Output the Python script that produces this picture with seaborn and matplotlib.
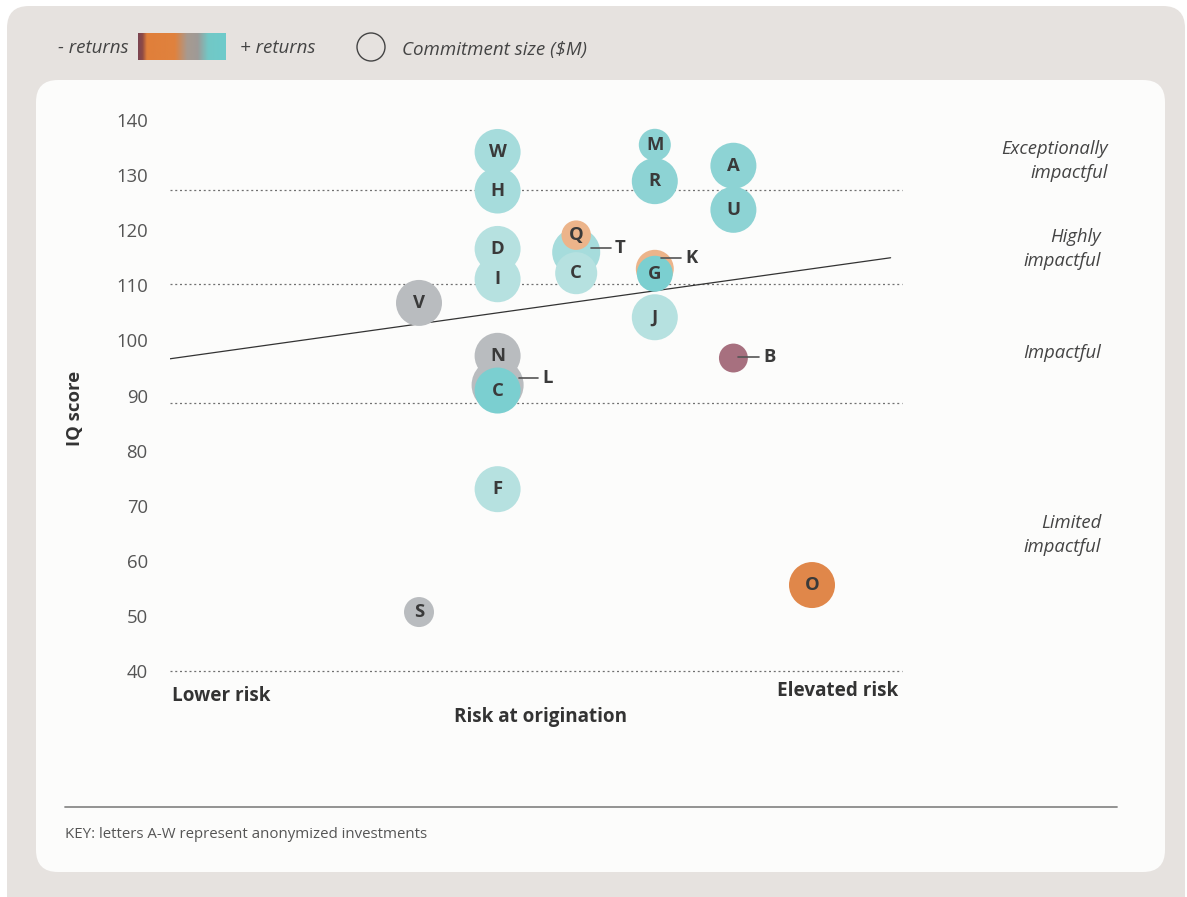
import numpy as np
import pandas as pd
import matplotlib
matplotlib.use("Agg")
import matplotlib.pyplot as plt
import matplotlib.transforms as mtransforms
from matplotlib.patches import FancyBboxPatch, Circle
from matplotlib.colors import LinearSegmentedColormap
import seaborn as sns

# ---- investments (drawn in this order, later ones on top) ----
labels = ["W", "H", "D", "I", "V", "N", "L", "C", "F", "S",
          "T", "Q", "C", "M", "R", "K", "G", "J", "A", "U", "B", "O"]
risk = [4, 4, 4, 4, 3, 4, 4, 4, 4, 3,
        5, 5, 5, 6, 6, 6, 6, 6, 7, 7, 7, 8]
iq_score = [134.2, 127.2, 116.6, 111.1, 106.8, 97.2, 91.9, 90.9, 73.0, 50.7,
            116.0, 119.1, 112.2, 135.5, 128.9, 113.0, 112.1, 104.2, 131.7, 123.7, 96.8, 55.6]
commitment_musd = [20, 20, 20, 20, 20, 20, 25.6, 20, 20, 8.5,
                   21.8, 8.2, 16.7, 9.7, 20, 13.6, 12.2, 20, 20, 20, 7.9, 20]
returns_tone = ["pos_soft", "pos_soft", "pos_pale", "pos_pale", "neutral", "neutral", "neutral",
                "pos_deep", "pos_pale", "neutral", "pos_soft", "neg_soft", "pos_pale", "pos",
                "pos", "neg_soft", "pos_deep", "pos_pale", "pos", "pos", "neg_deep", "neg"]

# labels placed outside their bubble with a short leader
outside_labels = {6: (21, -7, 40, 45), 10: (15, -4, 35, 38),
                  15: (6, -11, 26, 31), 20: (5, -1, 26, 30)}

band_edges = [127.3, 110.2, 88.6, 40.0]
band_names = ["Exceptionally\nimpactful", "Highly\nimpactful", "Impactful", "Limited\nimpactful"]
y_ticks = [40, 50, 60, 70, 80, 90, 100, 110, 120, 130, 140]
trend_intercept, trend_slope = 97.0, 2.0
trend_x_end = 9.0

tone_colors = {
    "pos": "#8DD3D4", "pos_deep": "#7BCFD0", "pos_soft": "#A6DCDC", "pos_pale": "#B6E1E0",
    "neutral": "#B9BCBF", "neg_soft": "#ECB48A", "neg": "#E0874A", "neg_deep": "#A7707F",
}

df = pd.DataFrame({"label": labels, "risk": risk, "iq": iq_score,
                   "commitment": commitment_musd, "tone": returns_tone})

sns.set_theme(style="white")
plt.rcParams["font.family"] = ["Open Sans", "DejaVu Sans"]

FS = 13.3
W, H = 1187, 897
fig = plt.figure(figsize=(W / 100, H / 100), dpi=100)
fig.patch.set_facecolor("white")

# background panels in pixel coordinates
bg = fig.add_axes([0, 0, 1, 1], zorder=0)
bg.set_xlim(0, W)
bg.set_ylim(H, 0)
bg.axis("off")
bg.add_patch(FancyBboxPatch((7, 6), 1178, 960, boxstyle="round,pad=0,rounding_size=22",
                            fc="#E6E2DF", ec="none"))
bg.add_patch(FancyBboxPatch((36, 80), 1129, 792, boxstyle="round,pad=0,rounding_size=22",
                            fc="#FCFCFB", ec="none"))

# main plotting area
x_lo, x_hi = -0.168, 9.145
y_lo, y_hi = 40.0, 143.63
ax = fig.add_axes([170 / W, 1 - 671 / H, 732 / W, 571 / H], zorder=2)
ax.patch.set_alpha(0)

k = 54.85  # marker area (pt^2) per $M
sns.scatterplot(data=df, x="risk", y="iq", size="commitment", sizes=(0, k * 30),
                size_norm=(0, 30), hue="tone", palette=tone_colors, linewidth=0,
                legend=False, ax=ax, zorder=3, clip_on=False)

ax.set_xlim(x_lo, x_hi)
ax.set_ylim(y_lo, y_hi)
for s in ax.spines.values():
    s.set_visible(False)
ax.set_xticks([])
ax.set_yticks(y_ticks)
ax.set_yticklabels([str(v) for v in y_ticks])
ax.tick_params(axis="y", length=0, pad=16, labelsize=FS, labelcolor="#555555")
ax.set_xlabel("")
ax.set_ylabel("")

ax.hlines(band_edges, x_lo, x_hi, colors="#707070", linestyles=(0, (1.6, 2.2)),
          linewidth=0.9, zorder=1, clip_on=False)

tx = np.array([x_lo, trend_x_end])
ax.plot(tx, trend_intercept + trend_slope * tx, color="#333333", lw=0.9, zorder=1.5)

fig.canvas.draw()
ident = mtransforms.IdentityTransform()
for i, row in df.iterrows():
    if i in outside_labels:
        dx1, dy, dx2, dxt = outside_labels[i]
        px, py = ax.transData.transform((row["risk"], row["iq"]))
        ax.plot([px + dx1, px + dx2], [py - dy, py - dy], transform=ident,
                color="#555555", lw=1.2, zorder=5, clip_on=False)
        ax.text(px + dxt, py - dy, row["label"], transform=ident, ha="left",
                va="center", fontsize=FS, fontweight="bold", color="#3A3A3A", zorder=5)
    else:
        ax.text(row["risk"], row["iq"], row["label"], ha="center", va="center",
                fontsize=FS, fontweight="bold", color="#3A3A3A", zorder=4)

# band names on the right
band_text_pos = [(1108, 161), (1101, 249), (1101, 353), (1101, 535)]
for name, (bx, by) in zip(band_names, band_text_pos):
    bg.text(bx, by, name, ha="right", va="center", fontsize=FS, style="italic",
            color="#444444", linespacing=1.42)

# axis titles
bg.text(75, 408, "IQ score", rotation=90, ha="center", va="center", fontsize=FS,
        fontweight="bold", color="#333333")
bg.text(172, 696, "Lower risk", ha="left", va="center", fontsize=FS + 0.3,
        fontweight="bold", color="#333333")
bg.text(898, 691, "Elevated risk", ha="right", va="center", fontsize=FS + 0.3,
        fontweight="bold", color="#333333")
bg.text(541, 717, "Risk at origination", ha="center", va="center", fontsize=FS + 0.3,
        fontweight="bold", color="#333333")

# legend: returns gradient and commitment size
cmap = LinearSegmentedColormap.from_list(
    "returns", [(0.0, "#7A4452"), (0.05, "#8E4A45"), (0.10, "#E07F3A"), (0.42, "#E0823E"),
                (0.56, "#A89A90"), (0.68, "#9E9A97"), (0.80, "#72C8C6"), (1.0, "#6ECBCB")])
lax = fig.add_axes([138 / W, 1 - 60 / H, 88 / W, 27 / H], zorder=3)
lax.imshow(np.linspace(0, 1, 256)[None, :], aspect="auto", cmap=cmap)
lax.axis("off")
bg.text(58, 48, "- returns", ha="left", va="center", fontsize=FS + 0.2, style="italic",
        color="#444444")
bg.text(240, 48, "+ returns", ha="left", va="center", fontsize=FS + 0.2, style="italic",
        color="#444444")
bg.add_patch(Circle((371, 47), 14, fill=False, ec="#444444", lw=1))
bg.text(402, 50, "Commitment size ($M)", ha="left", va="center", fontsize=FS + 0.2,
        style="italic", color="#444444")

# footer
bg.plot([65, 1117], [807, 807], color="#8A8A8A", lw=1.3)
bg.text(65, 835, "KEY: letters A-W represent anonymized investments", ha="left", va="center",
        fontsize=10.8, color="#555555")

fig.savefig("out.png", dpi=100, facecolor=fig.get_facecolor())
